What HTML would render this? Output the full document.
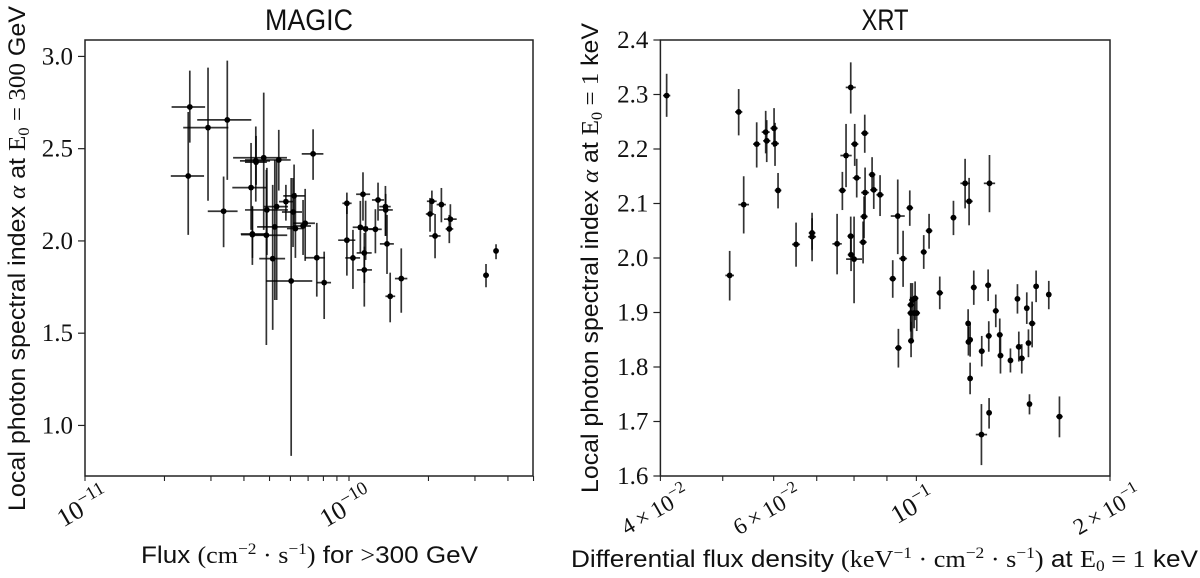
<!DOCTYPE html>
<html lang="en">
<head>
<meta charset="utf-8">
<title>MAGIC and XRT spectral index versus flux</title>
<style>
html,body{margin:0;padding:0;background:#fff;}
svg{display:block;}
.sans{font-family:"Liberation Sans",sans-serif;fill:#111;}
.serif{font-family:"Liberation Serif",serif;fill:#111;}
</style>
</head>
<body>
<svg id="fig" xmlns="http://www.w3.org/2000/svg" width="1200" height="578" viewBox="0 0 1200 578">
  <rect width="1200" height="578" fill="#fff"/>

  <g id="magic-panel"></g>
  <g id="xrt-panel"></g>

  <text class="sans" x="309" y="30" font-size="30" text-anchor="middle" textLength="88" lengthAdjust="spacingAndGlyphs">MAGIC</text>
  <text class="sans" x="885" y="30" font-size="30" text-anchor="middle" textLength="47" lengthAdjust="spacingAndGlyphs">XRT</text>

  <text class="sans" transform="translate(25,511) rotate(-90)" font-size="24" textLength="505" lengthAdjust="spacingAndGlyphs">Local photon spectral index <tspan class="serif" font-style="italic">α</tspan> at <tspan class="serif">E</tspan><tspan class="serif" font-size="16" dy="4">0</tspan><tspan class="serif" dy="-4"> = 300</tspan> GeV</text>
  <text class="sans" transform="translate(598,493) rotate(-90)" font-size="24" textLength="470" lengthAdjust="spacingAndGlyphs">Local photon spectral index <tspan class="serif" font-style="italic">α</tspan> at <tspan class="serif">E</tspan><tspan class="serif" font-size="16" dy="4">0</tspan><tspan class="serif" dy="-4"> = 1</tspan> keV</text>

  <text class="sans" x="141" y="563" font-size="24" textLength="337" lengthAdjust="spacingAndGlyphs">Flux <tspan class="serif">(cm</tspan><tspan class="serif" font-size="16" dy="-9">−2</tspan><tspan class="serif" dy="9"> · s</tspan><tspan class="serif" font-size="16" dy="-9">−1</tspan><tspan class="serif" dy="9">)</tspan> for <tspan class="serif">&gt;</tspan>300 GeV</text>
  <text class="sans" x="571" y="567" font-size="24" textLength="627" lengthAdjust="spacingAndGlyphs">Differential flux density <tspan class="serif">(keV</tspan><tspan class="serif" font-size="16" dy="-9">−1</tspan><tspan class="serif" dy="9"> · cm</tspan><tspan class="serif" font-size="16" dy="-9">−2</tspan><tspan class="serif" dy="9"> · s</tspan><tspan class="serif" font-size="16" dy="-9">−1</tspan><tspan class="serif" dy="9">)</tspan> at <tspan class="serif">E</tspan><tspan class="serif" font-size="16" dy="4">0</tspan><tspan class="serif" dy="-4"> = 1</tspan> keV</text>
</svg>

<script>
// MAGIC: x values are log10(flux / 1e-11 cm^-2 s^-1)
const magicLogFlux = [.397,.539,.466,.391,.525,.677,.647,.648,.734,.629,.864,.792,.761,.726,.689,.788,.719,.797,.834,.826,.634,.634,.687,.711,.878,.781,.906,.992,.992,1.015,1.053,1.043,1.063,1.058,1.058,1.110,1.100,1.138,1.139,1.144,1.156,1.198,1.314,1.307,1.350,1.326,1.384,1.380,1.519,1.557];
const magicLogFluxLow = [.328,.425,.372,.325,.465,.561,.587,.606,.606,.558,.821,.751,.735,.678,.606,.746,.652,.765,.788,.788,.590,.591,.625,.660,.833,.686,.878,.975,.959,.986,1.027,1.014,1.034,1.029,1.030,1.087,1.076,1.115,1.113,1.117,1.138,1.174,1.295,1.291,1.332,1.304,1.360,1.366,1.509,1.548];
const magicLogFluxHigh = [.455,.630,.543,.451,.578,.765,.701,.689,.779,.686,.903,.833,.788,.769,.769,.822,.795,.826,.871,.856,.682,.678,.766,.758,.909,.861,.932,1.010,1.024,1.042,1.080,1.072,1.091,1.086,1.087,1.133,1.124,1.158,1.166,1.170,1.175,1.221,1.332,1.323,1.367,1.347,1.408,1.395,1.530,1.566];
const magicIndex = [2.726,2.656,2.614,2.352,2.161,2.451,2.434,2.427,2.439,2.289,2.472,2.244,2.213,2.186,2.168,2.157,2.076,2.067,2.096,2.081,2.038,2.034,2.031,1.904,1.909,1.783,1.774,2.204,2.004,1.908,2.253,2.074,2.065,1.935,1.843,2.222,2.063,2.186,2.168,1.984,1.700,1.796,2.215,2.146,2.197,2.027,2.118,2.065,1.814,1.946];
const magicIndexHigh = [2.923,2.977,2.939,2.699,2.349,2.804,2.620,2.569,2.602,2.531,2.605,2.414,2.304,2.439,2.396,2.341,2.439,2.260,2.282,2.222,2.190,2.184,2.385,2.304,2.098,2.341,1.942,2.262,2.206,2.060,2.372,2.217,2.218,2.043,1.969,2.316,2.172,2.298,2.255,2.141,1.828,1.960,2.273,2.233,2.287,2.146,2.199,2.141,1.875,1.982];
const magicIndexLow = [2.533,2.331,2.218,2.033,1.966,2.060,2.213,2.304,2.273,2.060,2.331,2.076,2.110,1.680,1.924,1.967,1.680,1.908,1.892,1.924,1.908,1.870,1.436,1.518,1.698,.835,1.577,2.146,1.812,1.740,2.110,1.935,1.897,1.772,1.644,2.110,1.933,2.027,2.027,1.821,1.559,1.611,2.152,2.050,2.101,1.906,2.070,1.988,1.749,1.901];
const magicYTicks = [1.0,1.5,2.0,2.5,3.0];

// XRT: x values are log10(flux density / 0.04 keV^-1 cm^-2 s^-1)
const xrtLogFlux = [.0097,.1217,.1077,.1295,.1497,.1637,.1653,.1767,.1782,.1829,.2109,.2358,.2358,.2747,.2829,.2886,.2959,.3021,.3177,.3052,.3291,.3317,.3182,.3415,.3166,.3151,.2959,.2964,.3011,.3690,.3612,.3877,.3773,.4094,.4177,.3700,.3892,.3918,.3960,.3892,.3944,.3985,.3897,.4343,.4556,.4737,.4799,.5116,.4784,.4789,.4815,.4815,.4872,.5095,.4996,.5105,.5214,.5276,.5287,.5442,.5551,.5696,.5841,.6038,.5779,.5572,.5618,.5722,.5738,.5110,.4991,.6204];
const xrtLogFluxErr = [.0057,.0057,.0067,.0083,.0057,.0062,.0057,.0057,.0062,.0052,.0062,.0052,.0062,.0073,.0057,.0088,.0078,.0057,.0057,.0062,.0052,.0057,.0062,.0057,.0057,.0057,.0052,.0052,.0124,.0109,.0052,.0052,.0062,.0047,.0052,.0052,.0052,.0052,.0052,.0052,.0052,.0052,.0047,.0052,.0047,.0073,.0057,.0088,.0041,.0041,.0041,.0041,.0047,.0047,.0047,.0047,.0047,.0047,.0047,.0041,.0041,.0041,.0041,.0041,.0052,.0047,.0047,.0041,.0036,.0041,.0088,.0052];
const xrtIndex = [2.298,2.268,1.968,2.098,2.209,2.231,2.215,2.238,2.210,2.124,2.025,2.046,2.039,2.026,2.124,2.188,2.313,2.209,2.229,2.147,2.153,2.125,2.120,2.116,2.076,2.029,2.040,2.006,1.998,2.077,1.962,2.092,1.999,2.011,2.050,1.835,1.914,1.923,1.926,1.899,1.899,1.899,1.848,1.936,2.074,2.137,2.104,2.137,1.880,1.846,1.850,1.779,1.946,1.950,1.829,1.857,1.903,1.859,1.821,1.812,1.925,1.908,1.948,1.933,1.880,1.837,1.816,1.844,1.732,1.716,1.676,1.709];
const xrtIndexHigh = [2.338,2.310,2.013,2.150,2.249,2.270,2.253,2.275,2.248,2.156,2.065,2.083,2.073,2.081,2.158,2.246,2.359,2.246,2.263,2.182,2.185,2.155,2.166,2.152,2.113,2.067,2.076,2.039,2.076,2.144,1.996,2.124,2.050,2.042,2.081,1.870,1.954,1.954,1.957,1.929,1.929,1.929,1.883,1.966,2.105,2.182,2.147,2.189,1.906,1.874,1.880,1.808,1.977,1.979,1.857,1.884,1.933,1.889,1.856,1.834,1.952,1.937,1.977,1.958,1.920,1.865,1.842,1.869,1.750,1.743,1.732,1.746];
const xrtIndexLow = [2.259,2.225,1.922,2.045,2.166,2.192,2.176,2.204,2.169,2.091,1.984,2.015,1.994,1.970,2.088,2.130,2.265,2.169,2.193,2.111,2.122,2.090,2.076,2.077,2.036,1.990,2.009,1.976,1.917,2.007,1.927,2.059,1.947,1.980,2.017,1.799,1.865,1.850,1.886,1.868,1.871,1.866,1.818,1.906,2.042,2.091,2.060,2.084,1.850,1.821,1.819,1.750,1.914,1.921,1.801,1.828,1.873,1.825,1.788,1.790,1.898,1.879,1.919,1.906,1.836,1.810,1.788,1.818,1.713,1.687,1.620,1.671];
const xrtYTicks = [1.6,1.7,1.8,1.9,2.0,2.1,2.2,2.3,2.4];

const SVG_NS = 'http://www.w3.org/2000/svg';

function linearScale(d0, d1, r0, r1) {
  return function (v) { return r0 + (v - d0) * (r1 - r0) / (d1 - d0); };
}

function line(parent, x1, y1, x2, y2, stroke, width, opacity) {
  const el = document.createElementNS(SVG_NS, 'line');
  el.setAttribute('x1', x1);
  el.setAttribute('y1', y1);
  el.setAttribute('x2', x2);
  el.setAttribute('y2', y2);
  el.setAttribute('stroke', stroke);
  el.setAttribute('stroke-width', width);
  if (opacity) el.setAttribute('stroke-opacity', opacity);
  parent.appendChild(el);
  return el;
}

function drawFrame(parent, L, T, R, B) {
  const el = document.createElementNS(SVG_NS, 'rect');
  
  
  el.setAttribute('x', L);
  el.setAttribute('y', T);
  el.setAttribute('width', R - L);
  el.setAttribute('height', B - T);
  el.setAttribute('fill', 'none');
  el.setAttribute('stroke', '#222');
  el.setAttribute('stroke-width', '1.5');
  parent.appendChild(el);
}

function drawYTicks(parent, ticks, yScale, L) {
  ticks.forEach(function (t) {
    const y = yScale(t);
    const tick = line(parent, L - 7, y, L, y, '#222', 1.2);
    
    
    const label = document.createElementNS(SVG_NS, 'text');
    
    
    label.setAttribute('class', 'serif');
    label.setAttribute('x', L - 12);
    label.setAttribute('y', y + 8);
    label.setAttribute('font-size', '25');
    label.setAttribute('text-anchor', 'end');
    label.textContent = t.toFixed(1);
    parent.appendChild(label);
  });
}

function drawXTicks(parent, ticks, xScale, B) {
  ticks.forEach(function (t) {
    const tick = line(parent, xScale(t), B, xScale(t), B + 5, '#222', 1.1);
    
    
  });
}

function drawXLabel(parent, cx, cy, prefix, exponent, size) {
  const el = document.createElementNS(SVG_NS, 'text');
  
  
  el.setAttribute('class', 'serif');
  el.setAttribute('font-size', size);
  el.setAttribute('text-anchor', 'middle');
  el.setAttribute('transform', 'translate(' + cx + ',' + cy + ') rotate(-30)');
  const base = document.createElementNS(SVG_NS, 'tspan');
  base.setAttribute('y', '8');
  base.textContent = prefix + '10';
  el.appendChild(base);
  const sup = document.createElementNS(SVG_NS, 'tspan');
  sup.setAttribute('font-size', size * 0.72);
  sup.setAttribute('dy', '-10');
  sup.textContent = exponent;
  el.appendChild(sup);
  parent.appendChild(el);
}

function drawPoints(parent, n, xs, xLo, xHi, ys, yLo, yHi, xScale, yScale, pointName) {
  for (let i = 0; i < n; i++) {
    const g = document.createElementNS(SVG_NS, 'g');
    
    
    line(g, xScale(xs[i]), yScale(yLo[i]), xScale(xs[i]), yScale(yHi[i]), '#000', 1.7, 0.8);
    line(g, xScale(xLo(i)), yScale(ys[i]), xScale(xHi(i)), yScale(ys[i]), '#000', 1.7, 0.8);
    const dot = document.createElementNS(SVG_NS, 'circle');
    dot.setAttribute('cx', xScale(xs[i]));
    dot.setAttribute('cy', yScale(ys[i]));
    dot.setAttribute('r', '2.9');
    dot.setAttribute('fill', '#000');
    g.appendChild(dot);
    parent.appendChild(g);
  }
}

/* MAGIC panel */
const magicPanel = document.getElementById('magic-panel');
const mx = linearScale(0, 1.697, 85, 533);
const my = linearScale(0.726, 3.089, 476, 40);
drawPoints(magicPanel, magicLogFlux.length, magicLogFlux,
  function (i) { return magicLogFluxLow[i]; },
  function (i) { return magicLogFluxHigh[i]; },
  magicIndex, magicIndexLow, magicIndexHigh, mx, my, 'magic-point');
drawFrame(magicPanel, 85, 40, 533, 476);
drawYTicks(magicPanel, magicYTicks, my, 85);
const magicDecadeMultiples = [1,2,3,4,5,6,7,8,9];
const magicDecades = [0,1];
const magicTickPositions = [];
magicDecades.forEach(function (d) {
  magicDecadeMultiples.forEach(function (m) {
    const v = d + Math.log10(m);
    if (v <= 1.7) magicTickPositions.push(v);
  });
});
drawXTicks(magicPanel, magicTickPositions, mx, 476);
drawXLabel(magicPanel, 83, 507, '', '−11', 26);
drawXLabel(magicPanel, 346, 507, '', '−10', 26);

/* XRT panel */
const xrtPanel = document.getElementById('xrt-panel');
const xx = linearScale(0, 0.69897, 660.4, 1110);
const xy = linearScale(1.6, 2.4, 476, 40);
drawPoints(xrtPanel, xrtLogFlux.length, xrtLogFlux,
  function (i) { return xrtLogFlux[i] - xrtLogFluxErr[i]; },
  function (i) { return xrtLogFlux[i] + xrtLogFluxErr[i]; },
  xrtIndex, xrtIndexLow, xrtIndexHigh, xx, xy, 'xrt-point');
drawFrame(xrtPanel, 660.4, 40, 1110, 476);
drawYTicks(xrtPanel, xrtYTicks, xy, 660.4);
const xrtTickValues = [0.04,0.05,0.06,0.07,0.08,0.09,0.1,0.2];
drawXTicks(xrtPanel, xrtTickValues.map(function (v) { return Math.log10(v / 0.04); }), xx, 476);
drawXLabel(xrtPanel, 655, 510, '4\u2009×\u2009', '−2', 23);
drawXLabel(xrtPanel, 767, 510, '6\u2009×\u2009', '−2', 23);
drawXLabel(xrtPanel, 913, 506, '', '−1', 26);
drawXLabel(xrtPanel, 1107, 510, '2\u2009×\u2009', '−1', 23);
</script>
</body>
</html>
